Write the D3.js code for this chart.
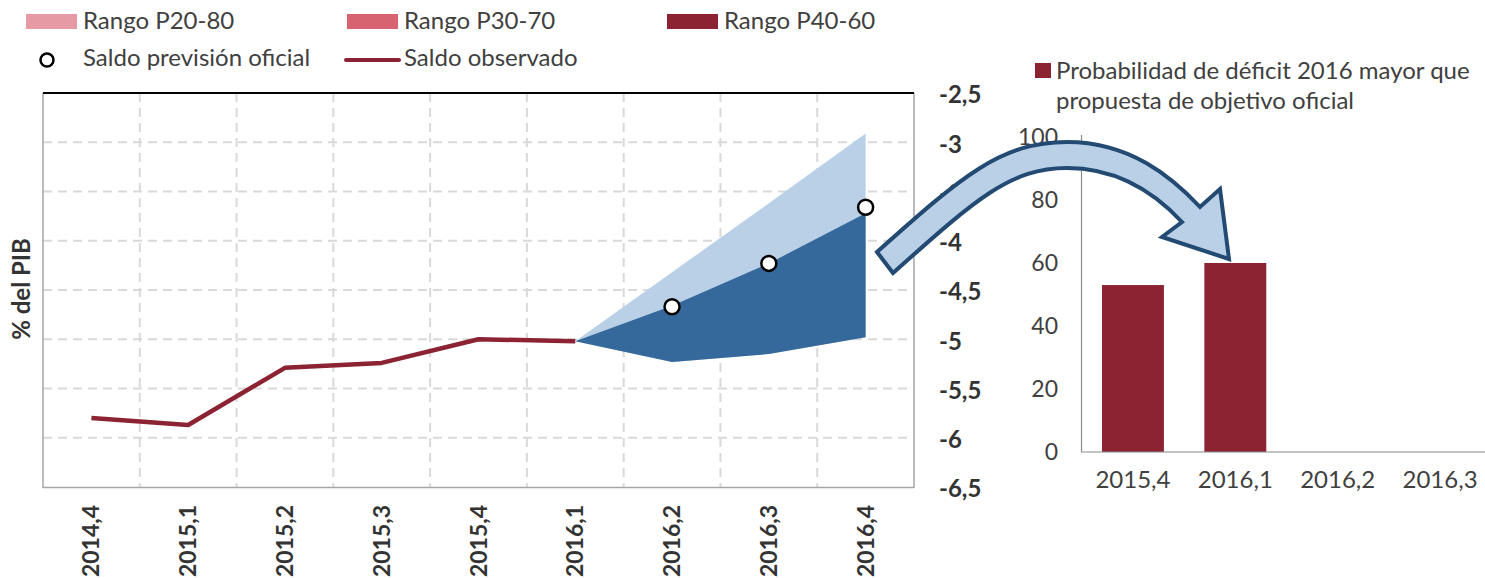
<html>
<head>
  <meta charset="utf-8">
  <script src="https://d3js.org/d3.v7.min.js"></script>
  <style>
    body { margin: 0; background: #fff; }
    text { font-family: Lato, "Open Sans", sans-serif; }
  </style>
</head>
<body>
<div id="chart"></div>
<script>
// quarters on the left panel
var quarters = ["2014,4", "2015,1", "2015,2", "2015,3", "2015,4", "2016,1", "2016,2", "2016,3", "2016,4"];
// observed balance (% of GDP)
var observedQuarters = ["2014,4", "2015,1", "2015,2", "2015,3", "2015,4", "2016,1"];
var observed = [-5.80, -5.87, -5.29, -5.24, -5.00, -5.02];
// fan chart bands
var fanQuarters = ["2016,1", "2016,2", "2016,3", "2016,4"];
var fanOuterTop = [-5.02, -4.32, -3.62, -2.91];
var fanInnerTop = [-5.02, -4.66, -4.23, -3.72];
var fanBottom = [-5.02, -5.23, -5.15, -4.98];
// official forecast
var officialQuarters = ["2016,2", "2016,3", "2016,4"];
var official = [-4.67, -4.23, -3.66];
var yTicks = [-2.5, -3, -3.5, -4, -4.5, -5, -5.5, -6, -6.5];

// right panel: probability of deficit above official target
var probQuarters = ["2015,4", "2016,1", "2016,2", "2016,3"];
var probValues = [53, 60, null, null];
var probTicks = [0, 20, 40, 60, 80, 100];

var legendItems = ["Rango P20-80", "Rango P30-70", "Rango P40-60"];
var legendColors = ["#e69aa3", "#d6636f", "#8b2332"];

var W = 1485, H = 578;
var red = "#8b2332", lightBlue = "#b9d0e7", darkBlue = "#35699c", navy = "#234a72";
var textCol = "#404040";

var svg = d3.select("#chart").append("svg")
    .attr("width", W).attr("height", H);

// ---- left panel ----
var x = d3.scaleBand().domain(quarters).range([43, 914]).padding(0);
var y = d3.scaleLinear().domain([-6.5, -2.5]).range([487, 93]);
var cx = function(q) { return x(q) + x.bandwidth() / 2; };

var grid = svg.append("g");
// horizontal dashed grid
grid.selectAll(".hg").data(yTicks.filter(function(d) { return d > -6.5 && d < -2.5; }))
  .enter().append("line")
    .attr("x1", 43).attr("x2", 914)
    .attr("y1", function(d) { return y(d); }).attr("y2", function(d) { return y(d); })
    .attr("stroke", "#d9d9d9").attr("stroke-width", 2).attr("stroke-dasharray", "9,6");
// vertical dashed grid at category boundaries
grid.selectAll(".vg").data(quarters.slice(1))
  .enter().append("line")
    .attr("x1", function(d) { return x(d); }).attr("x2", function(d) { return x(d); })
    .attr("y1", 93).attr("y2", 487)
    .attr("stroke", "#d9d9d9").attr("stroke-width", 2).attr("stroke-dasharray", "9,6");

// frame
svg.append("line").attr("x1", 43).attr("x2", 43).attr("y1", 93).attr("y2", 488)
  .attr("stroke", "#a6a6a6").attr("stroke-width", 1.5);
svg.append("line").attr("x1", 914).attr("x2", 914).attr("y1", 93).attr("y2", 488)
  .attr("stroke", "#a6a6a6").attr("stroke-width", 1.5);
svg.append("line").attr("x1", 43).attr("x2", 914).attr("y1", 487.5).attr("y2", 487.5)
  .attr("stroke", "#a6a6a6").attr("stroke-width", 1.5);
svg.append("line").attr("x1", 43).attr("x2", 914).attr("y1", 93).attr("y2", 93)
  .attr("stroke", "#000").attr("stroke-width", 2);

// fan
var fan = fanQuarters.map(function(q, i) {
  return { q: q, top: fanOuterTop[i], mid: fanInnerTop[i], bot: fanBottom[i] };
});
svg.append("path").datum(fan)
  .attr("fill", lightBlue)
  .attr("d", d3.area().x(function(d) { return cx(d.q); })
    .y0(function(d) { return y(d.bot); }).y1(function(d) { return y(d.top); }));
svg.append("path").datum(fan)
  .attr("fill", darkBlue)
  .attr("d", d3.area().x(function(d) { return cx(d.q); })
    .y0(function(d) { return y(d.bot); }).y1(function(d) { return y(d.mid); }));

// observed line
var obs = observedQuarters.map(function(q, i) { return { q: q, v: observed[i] }; });
svg.append("path").datum(obs)
  .attr("fill", "none").attr("stroke", red).attr("stroke-width", 4.5)
  .attr("stroke-linejoin", "round")
  .attr("d", d3.line().x(function(d) { return cx(d.q); }).y(function(d) { return y(d.v); }));

// official forecast points
svg.selectAll(".off").data(officialQuarters)
  .enter().append("circle")
    .attr("cx", function(d) { return cx(d); })
    .attr("cy", function(d, i) { return y(official[i]); })
    .attr("r", 7.5)
    .attr("fill", "#fff").attr("stroke", "#000").attr("stroke-width", 2.5);

// y tick labels on the right side
svg.selectAll(".yl").data(yTicks)
  .enter().append("text")
    .attr("x", 939).attr("y", function(d) { return y(d) + 2; })
    .attr("dy", "0.35em")
    .attr("font-size", 24).attr("font-weight", "bold").attr("fill", "#333")
    .text(function(d) { return String(d).replace(".", ","); });

// x tick labels rotated
svg.selectAll(".xl").data(quarters)
  .enter().append("text")
    .attr("transform", function(d) { return "translate(" + cx(d) + ",505) rotate(-90)"; })
    .attr("text-anchor", "end").attr("dy", "0.35em")
    .attr("font-size", 23).attr("font-weight", "bold").attr("fill", "#333")
    .text(function(d) { return d; });

// y axis title
svg.append("text")
  .attr("transform", "translate(22,289) rotate(-90)")
  .attr("text-anchor", "middle").attr("dy", "0.35em")
  .attr("font-size", 24).attr("font-weight", "bold").attr("fill", "#333")
  .text("% del PIB");

// ---- legend ----
var legX = [26, 347, 667];
legendItems.forEach(function(t, i) {
  svg.append("rect").attr("x", legX[i]).attr("y", 14).attr("width", 51).attr("height", 15)
    .attr("fill", legendColors[i]);
  svg.append("text").attr("x", legX[i] + 57).attr("y", 21).attr("dy", "0.35em")
    .attr("font-size", 24).attr("fill", textCol).text(t);
});
svg.append("circle").attr("cx", 47).attr("cy", 60).attr("r", 6.5)
  .attr("fill", "#fff").attr("stroke", "#000").attr("stroke-width", 2.5);
svg.append("text").attr("x", 83).attr("y", 58).attr("dy", "0.35em")
  .attr("font-size", 24).attr("fill", textCol).text("Saldo previsión oficial");
svg.append("line").attr("x1", 346).attr("x2", 399).attr("y1", 60).attr("y2", 60)
  .attr("stroke", red).attr("stroke-width", 4).attr("stroke-linecap", "round");
svg.append("text").attr("x", 404).attr("y", 58).attr("dy", "0.35em")
  .attr("font-size", 24).attr("fill", textCol).text("Saldo observado");

// ---- right panel ----
var x2 = d3.scaleBand().domain(probQuarters).range([1081, 1492])
  .paddingInner(0.395).paddingOuter(0.205);
var y2 = d3.scaleLinear().domain([0, 100]).range([452, 137]);

svg.selectAll(".bar").data(probQuarters.filter(function(d, i) { return probValues[i] != null; }))
  .enter().append("rect")
    .attr("x", function(d) { return x2(d); })
    .attr("width", x2.bandwidth())
    .attr("y", function(d) { return y2(probValues[probQuarters.indexOf(d)]); })
    .attr("height", function(d) { return 452 - y2(probValues[probQuarters.indexOf(d)]); })
    .attr("fill", red);

svg.append("line").attr("x1", 1081.5).attr("x2", 1081.5).attr("y1", 135).attr("y2", 452)
  .attr("stroke", "#8c8c8c").attr("stroke-width", 1.2);
svg.append("line").attr("x1", 1081).attr("x2", W).attr("y1", 452).attr("y2", 452)
  .attr("stroke", "#8c8c8c").attr("stroke-width", 1.2);

svg.selectAll(".y2l").data(probTicks)
  .enter().append("text")
    .attr("x", 1058).attr("y", function(d) { return y2(d); })
    .attr("dy", "0.35em").attr("text-anchor", "end")
    .attr("font-size", 23).attr("fill", textCol)
    .text(function(d) { return d; });

svg.selectAll(".x2l").data(probQuarters)
  .enter().append("text")
    .attr("x", function(d) { return x2(d) + x2.bandwidth() / 2; })
    .attr("y", 480).attr("dy", "0.35em").attr("text-anchor", "middle")
    .attr("font-size", 24).attr("fill", textCol)
    .text(function(d) { return d; });

// right legend
svg.append("rect").attr("x", 1035).attr("y", 63).attr("width", 16).attr("height", 15).attr("fill", red);
svg.append("text").attr("x", 1056).attr("y", 79).attr("font-size", 24).attr("fill", textCol)
  .text("Probabilidad de déficit 2016 mayor que");
svg.append("text").attr("x", 1056).attr("y", 109).attr("font-size", 24).attr("fill", textCol)
  .text("propuesta de objetivo oficial");

// ---- curved arrow linking the panels ----
var arrow = d3.path();
arrow.moveTo(877, 252);
arrow.bezierCurveTo(960, 178, 1000, 142, 1067, 142);
arrow.bezierCurveTo(1130, 142, 1172, 177, 1200, 207);
arrow.lineTo(1220, 189);
arrow.lineTo(1229, 259);
arrow.lineTo(1162, 237);
arrow.lineTo(1182, 222);
arrow.bezierCurveTo(1155, 193, 1118, 168, 1067, 168);
arrow.bezierCurveTo(1010, 168, 975, 200, 893, 273);
arrow.closePath();
svg.append("path").attr("d", arrow.toString())
  .attr("fill", lightBlue).attr("stroke", navy).attr("stroke-width", 4)
  .attr("stroke-linejoin", "miter");
</script>
</body>
</html>
